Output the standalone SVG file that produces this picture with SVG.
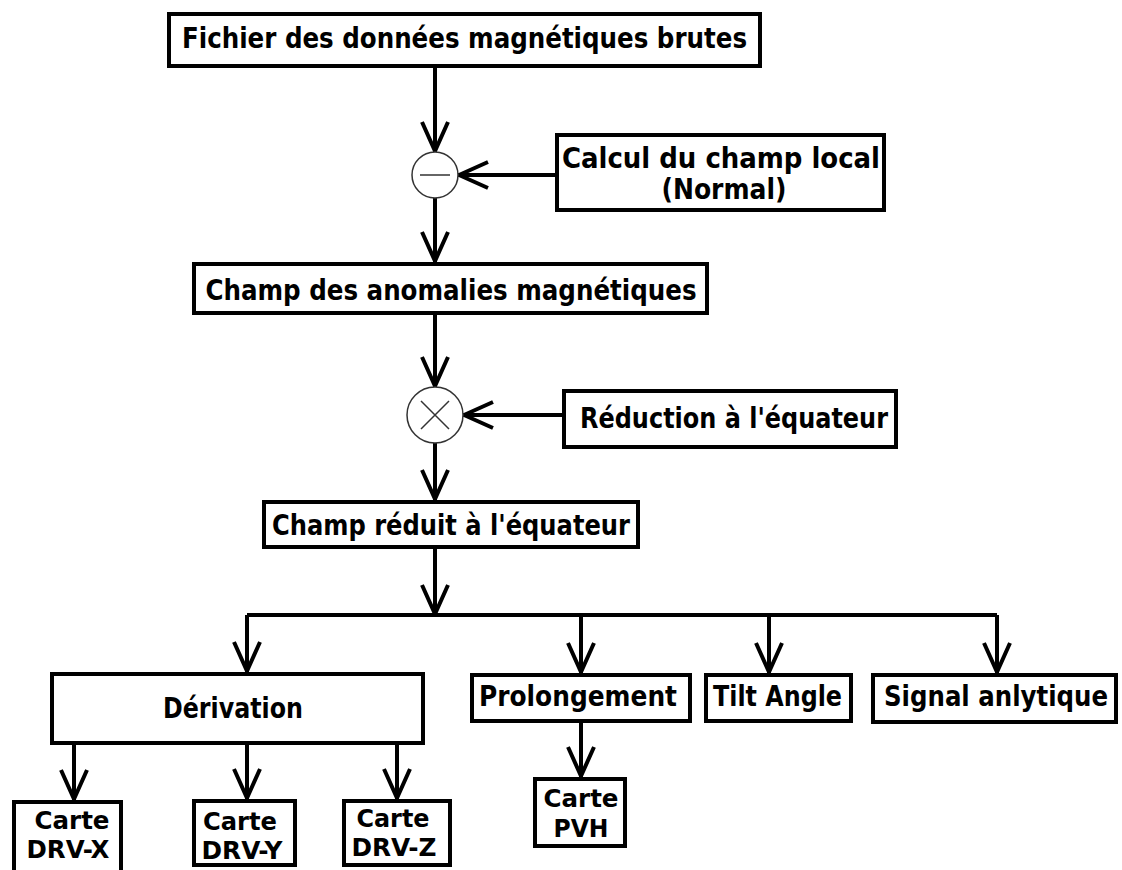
<svg xmlns="http://www.w3.org/2000/svg" width="1122" height="870" viewBox="0 0 1122 870">
<style>
.box{fill:#fff;stroke:#000;stroke-width:4}
.t{font-family:"Liberation Sans Narrow","DejaVu Sans Condensed","Liberation Sans",sans-serif;font-weight:bold;font-size:28px;fill:#000;text-anchor:middle}
.s{font-size:24px}
.c{fill:none;stroke:#000;stroke-width:4}
.a{fill:none;stroke:#000;stroke-width:4;marker-end:url(#arr)}
.op{fill:#fff;stroke:#333;stroke-width:1.5}
</style>
<defs>
<marker id="arr" viewBox="-34 -16 36 32" refX="0" refY="0" markerWidth="36" markerHeight="32" markerUnits="userSpaceOnUse" orient="auto">
<path d="M-30,-13 L-1,0 L-30,13" fill="none" stroke="#000" stroke-width="4"/>
</marker>
</defs>
<rect width="1122" height="870" fill="#fff"/>
<g id="connectors">
<path class="a" d="M435,68 V152"/>
<path class="a" d="M435,198 V262"/>
<path class="a" d="M435,315 V387"/>
<path class="a" d="M435,443 V500"/>
<path class="a" d="M435,549 V615"/>
<path class="a" d="M555,175 H458"/>
<path class="a" d="M562,415 H463"/>
<path class="c" d="M247,615 H997"/>
<path class="a" d="M247,615 V672"/>
<path class="a" d="M581,615 V673"/>
<path class="a" d="M769,615 V673"/>
<path class="a" d="M997,615 V673"/>
<path class="a" d="M74,745 V800"/>
<path class="a" d="M247,745 V799"/>
<path class="a" d="M397,745 V799"/>
<path class="a" d="M581,723 V777"/>
</g>
<g id="n-fichier"><rect class="box" x="169" y="14" width="591" height="52"/><text class="t" x="464.5" y="48" textLength="565" lengthAdjust="spacingAndGlyphs">Fichier des données magnétiques brutes</text></g>
<g id="op-minus"><circle class="op" cx="435" cy="175" r="23"/><line x1="420" y1="175" x2="450" y2="175" stroke="#333" stroke-width="1.5"/></g>
<g id="n-calcul"><rect class="box" x="557" y="135" width="327" height="75"/><text class="t" x="721" y="168" textLength="318" lengthAdjust="spacingAndGlyphs">Calcul du champ local</text><text class="t" x="724" y="199" textLength="125" lengthAdjust="spacingAndGlyphs">(Normal)</text></g>
<g id="n-anomalies"><rect class="box" x="194" y="264" width="513" height="49"/><text class="t" x="451" y="300" textLength="491" lengthAdjust="spacingAndGlyphs">Champ des anomalies magnétiques</text></g>
<g id="op-times"><circle class="op" cx="435" cy="415" r="28"/><path d="M421,401 L449,429 M449,401 L421,429" stroke="#333" stroke-width="1.5"/></g>
<g id="n-reduction"><rect class="box" x="564" y="391" width="332" height="56"/><text class="t" x="734" y="428" textLength="308" lengthAdjust="spacingAndGlyphs">Réduction à l'équateur</text></g>
<g id="n-reduit"><rect class="box" x="264" y="502" width="374" height="45"/><text class="t" x="451" y="535" textLength="358" lengthAdjust="spacingAndGlyphs">Champ réduit à l'équateur</text></g>
<g id="n-derivation"><rect class="box" x="52" y="674" width="371" height="69"/><text class="t" x="233" y="718" textLength="140" lengthAdjust="spacingAndGlyphs">Dérivation</text></g>
<g id="n-prolongement"><rect class="box" x="472" y="675" width="218" height="46"/><text class="t" x="578" y="706" textLength="198" lengthAdjust="spacingAndGlyphs">Prolongement</text></g>
<g id="n-tilt"><rect class="box" x="706" y="675" width="145" height="46"/><text class="t" x="777.5" y="706" textLength="129" lengthAdjust="spacingAndGlyphs">Tilt Angle</text></g>
<g id="n-signal"><rect class="box" x="873" y="675" width="243" height="47"/><text class="t" x="996" y="706" textLength="224" lengthAdjust="spacingAndGlyphs">Signal anlytique</text></g>
<g id="n-drvx"><rect class="box" x="14" y="802" width="107" height="75"/><text class="t s" x="72" y="829" textLength="75" lengthAdjust="spacingAndGlyphs">Carte</text><text class="t s" x="68" y="858" textLength="83" lengthAdjust="spacingAndGlyphs">DRV-X</text></g>
<g id="n-drvy"><rect class="box" x="194" y="801" width="101" height="64"/><text class="t s" x="240" y="830" textLength="74" lengthAdjust="spacingAndGlyphs">Carte</text><text class="t s" x="242" y="859" textLength="81" lengthAdjust="spacingAndGlyphs">DRV-Y</text></g>
<g id="n-drvz"><rect class="box" x="344" y="801" width="106" height="64"/><text class="t s" x="393" y="827" textLength="73" lengthAdjust="spacingAndGlyphs">Carte</text><text class="t s" x="394" y="856" textLength="85" lengthAdjust="spacingAndGlyphs">DRV-Z</text></g>
<g id="n-pvh"><rect class="box" x="535" y="779" width="90" height="67"/><text class="t s" x="581" y="807" textLength="75" lengthAdjust="spacingAndGlyphs">Carte</text><text class="t s" x="581" y="837" textLength="55" lengthAdjust="spacingAndGlyphs">PVH</text></g>
</svg>
